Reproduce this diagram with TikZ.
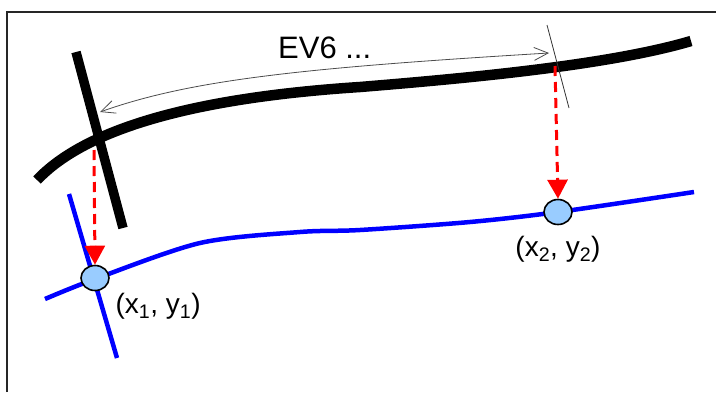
\documentclass[tikz,border=0pt]{standalone}
\usepackage{fontspec}
\setmainfont{Liberation Sans}
\usetikzlibrary{arrows.meta,positioning,shapes.geometric}
\definecolor{ptfill}{HTML}{99CCFF}
\tikzset{
  road/.style={line width=10.5pt},
  lane/.style={blue,line width=4.5pt},
  pt/.style={ellipse,draw=black,line width=1.6pt,fill=ptfill,
    minimum width=28pt,minimum height=25pt,inner sep=0pt},
  proj/.style={red,line width=3pt,dash pattern=on 10pt off 6pt,
    -{Triangle[length=19pt,width=20pt]}},
  span/.style={black!70,line width=0.8pt,
    {Straight Barb[length=14pt,width=13pt]}-{Straight Barb[length=14pt,width=13pt]}},
  lbl/.style={font=\fontsize{28}{32}\selectfont,inner sep=0pt},
}

\begin{document}
\begin{tikzpicture}[x=1pt,y=-1pt]
  \useasboundingbox (0,0) rectangle (716,392);
  \draw[line width=1.5pt,black!85] (7,392) |- (716,12);
  % blue lane and its cross line
  \draw[lane] plot[smooth] coordinates
    {(45,299) (95,279) (200,243) (300,232) (360,230) (470,222) (558,212) (694,192)};
  \draw[lane] (69,194) -- (117,358);
  % black road and its cross bar
  \draw[road] (37,180) .. controls (75,140) and (160,100) .. (360,87)
    .. controls (470,78) and (610,65) .. (691,41);
  \draw[line width=9.5pt] (76,52) -- (123,228);
  \draw[line width=0.8pt,black!80] (547,25) -- (569,108);
  \coordinate (a) at (100,112);
  \coordinate (b) at (549,53);
  \draw[span] (a) .. controls (190,80) and (300,68) .. (b);
  \node[lbl,font=\fontsize{31}{36}\selectfont,anchor=base west] (ev) at (278,58) {EV6 ...};
  \foreach \i/\x/\y in {1/95/278,2/558/212}
    \node[pt] (p\i) at (\x,\y) {};
  \coordinate (c1) at (94,150);
  \coordinate (c2) at (555,66);
  \foreach \i in {1,2} \draw[proj] (c\i) -- (p\i.north);
  \node[lbl,below right=6pt and 10pt of p1] (l1) {(x\textsubscript{1}, y\textsubscript{1})};
  \node[lbl,below=11pt of p2] (l2) {(x\textsubscript{2}, y\textsubscript{2})};
\end{tikzpicture}
\end{document}
